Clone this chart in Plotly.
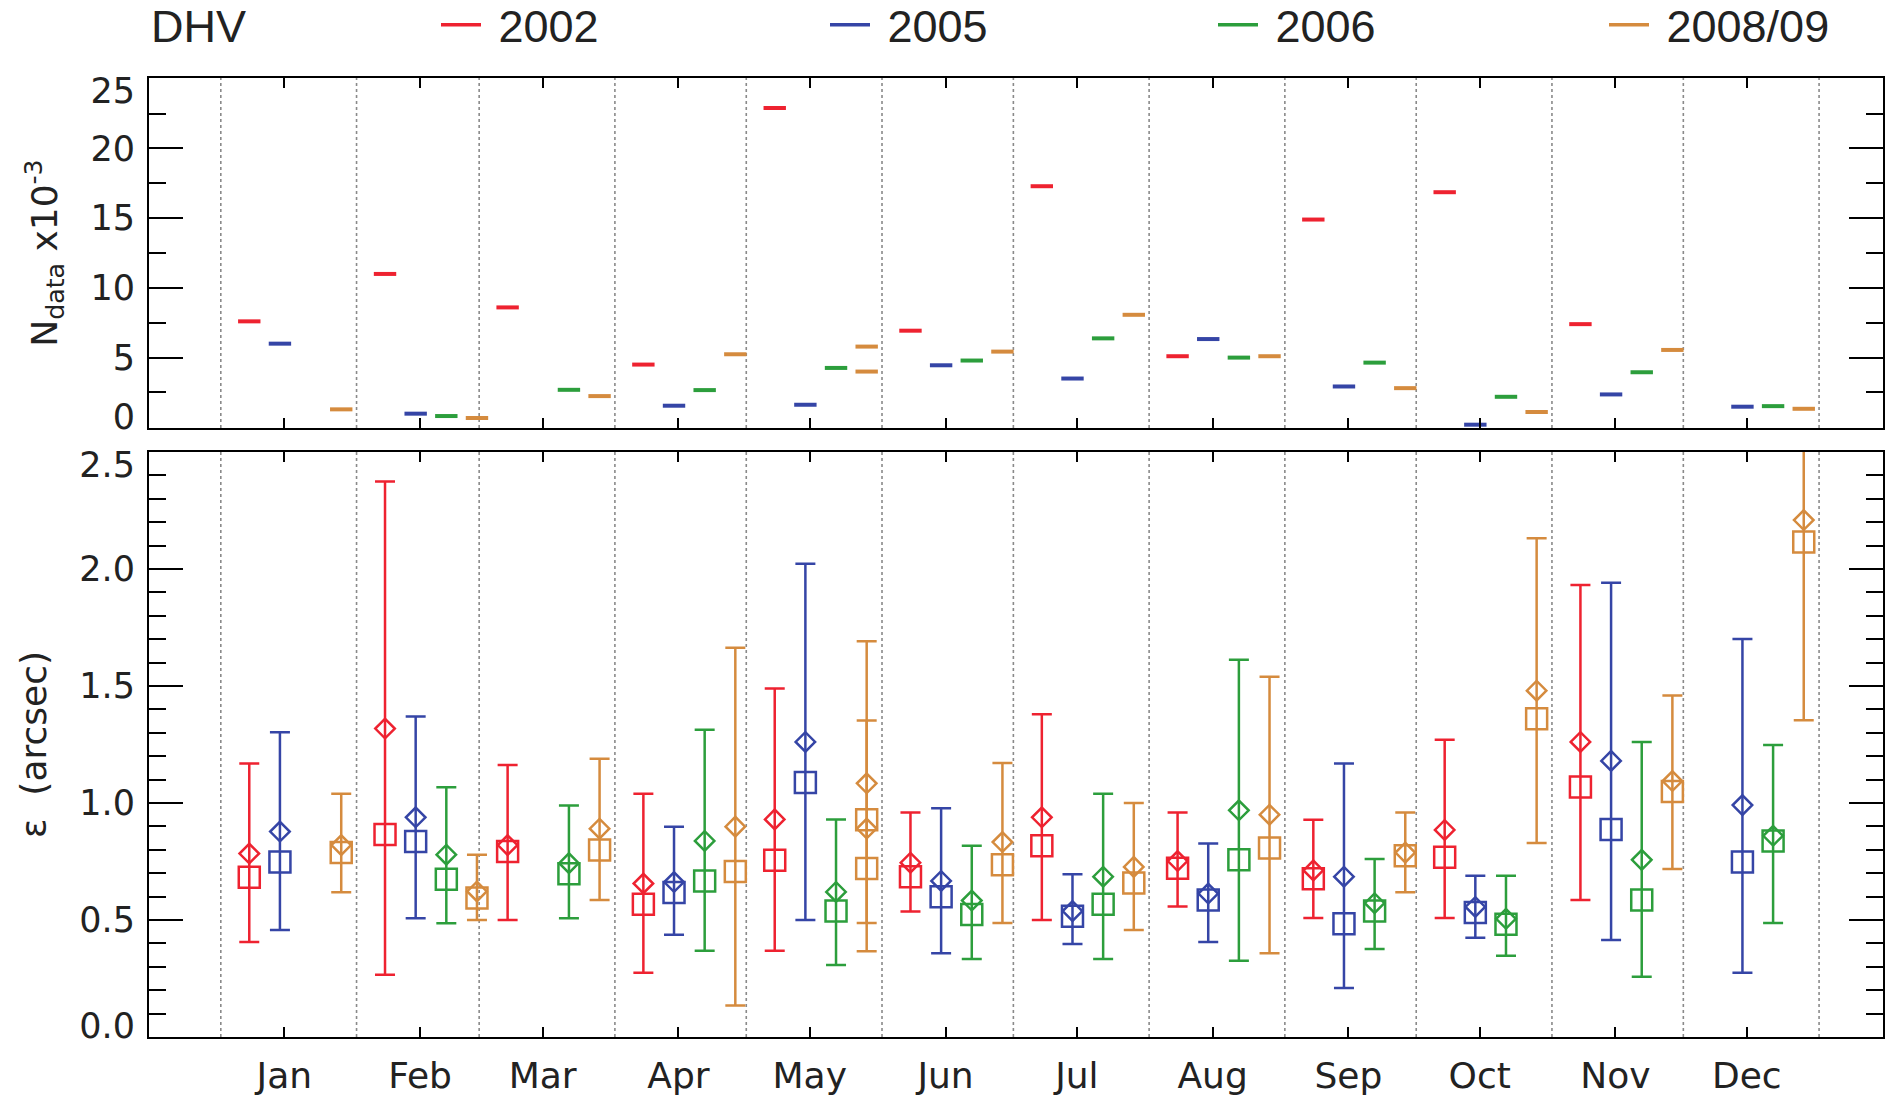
import plotly.graph_objects as go

# ---------------------------------------------------------------- data
months = ["Jan", "Feb", "Mar", "Apr", "May", "Jun",
          "Jul", "Aug", "Sep", "Oct", "Nov", "Dec"]
month_days = [31, 28, 31, 30, 31, 30, 31, 31, 30, 31, 30, 31]

series_names = ["2002", "2005", "2006", "2008/09"]
series_colors = ["#ee2230", "#3545a6", "#2c9e3c", "#d58b3e"]
# day of the month each campaign's monthly sample is plotted at
sample_day = [7, 14, 21, 28]

# month index of every monthly sample (2008/09 has two May samples)
month_idx_2002 = [0, 1, 2, 3, 4, 5, 6, 7, 8, 9, 10]
month_idx_2005 = [0, 1, 3, 4, 5, 6, 7, 8, 9, 10, 11]
month_idx_2006 = [1, 2, 3, 4, 5, 6, 7, 8, 9, 10, 11]
month_idx_0809 = [0, 1, 2, 3, 4, 4, 5, 6, 7, 8, 9, 10, 11]

# number of data points (x 10^-3)
ndata_2002 = [7.6, 11.0, 8.6, 4.5, 22.9, 6.93, 17.29, 5.1, 14.9, 16.86, 7.4]
ndata_2005 = [6.0, 0.98, 1.55, 1.62, 4.45, 3.5, 6.33, 2.93, 0.19, 2.36, 1.48]
ndata_2006 = [0.81, 2.69, 2.67, 4.26, 4.79, 6.38, 5.0, 4.64, 2.19, 3.95, 1.52]
ndata_0809 = [1.29, 0.67, 2.24, 5.24, 5.79, 4.0, 5.43, 8.07, 5.1, 2.81, 1.1, 5.55, 1.33]

# epsilon (arcsec): mean, median, and lower / upper end of the spread bar
mean_2002 = [0.784, 1.318, 0.82, 0.656, 0.93, 0.745, 0.939, 0.752, 0.712, 0.885, 1.261]
median_2002 = [0.683, 0.865, 0.793, 0.567, 0.755, 0.685, 0.817, 0.721, 0.676, 0.768, 1.068]
low_2002 = [0.406, 0.266, 0.50, 0.275, 0.369, 0.536, 0.50, 0.558, 0.509, 0.509, 0.586]
high_2002 = [1.169, 2.374, 1.162, 1.04, 1.489, 0.959, 1.379, 0.959, 0.928, 1.27, 1.932]

mean_2005 = [0.878, 0.939, 0.662, 1.261, 0.667, 0.538, 0.613, 0.685, 0.556, 1.18, 0.991]
median_2005 = [0.748, 0.835, 0.617, 1.088, 0.599, 0.516, 0.586, 0.484, 0.532, 0.887, 0.748]
low_2005 = [0.457, 0.507, 0.437, 0.50, 0.358, 0.397, 0.406, 0.209, 0.424, 0.415, 0.275]
high_2005 = [1.302, 1.37, 0.899, 2.023, 0.978, 0.696, 0.827, 1.169, 0.689, 1.941, 1.701]

mean_2006 = [0.779, 0.743, 0.838, 0.62, 0.583, 0.685, 0.969, 0.572, 0.505, 0.757, 0.86]
median_2006 = [0.674, 0.698, 0.667, 0.538, 0.523, 0.567, 0.757, 0.538, 0.482, 0.585, 0.838]
low_2006 = [0.486, 0.507, 0.369, 0.308, 0.333, 0.333, 0.326, 0.376, 0.347, 0.257, 0.487]
high_2006 = [1.067, 0.989, 1.313, 0.93, 0.817, 1.04, 1.612, 0.761, 0.689, 1.261, 1.248]

mean_0809 = [0.82, 0.622, 0.89, 0.899, 1.084, 0.891, 0.833, 0.727, 0.95, 0.788, 1.48, 1.094, 2.209]
median_0809 = [0.788, 0.594, 0.799, 0.707, 0.928, 0.72, 0.736, 0.658, 0.808, 0.775, 1.36, 1.049, 2.115]
low_0809 = [0.619, 0.50, 0.586, 0.135, 0.366, 0.487, 0.487, 0.457, 0.358, 0.619, 0.829, 0.718, 1.354]
high_0809 = [1.04, 0.779, 1.189, 1.664, 1.691, 1.353, 1.171, 1.0, 1.54, 0.959, 2.131, 1.459, 3.06]

month_idx = [month_idx_2002, month_idx_2005, month_idx_2006, month_idx_0809]
ndata = [ndata_2002, ndata_2005, ndata_2006, ndata_0809]
means = [mean_2002, mean_2005, mean_2006, mean_0809]
medians = [median_2002, median_2005, median_2006, median_0809]
lows = [low_2002, low_2005, low_2006, low_0809]
highs = [high_2002, high_2005, high_2006, high_0809]

# y tick values of both panels
ndata_ticks = [0, 5, 10, 15, 20, 25]
eps_ticks = [0.0, 0.5, 1.0, 1.5, 2.0, 2.5]

# ------------------------------------------------------- day-of-year axis
month_start = [sum(month_days[:i]) for i in range(12)]
month_edges = month_start + [sum(month_days)]
month_mid = [s + 14.5 for s in month_start]

TICK_FONT = dict(family="DejaVu Sans", size=35, color="#222")
MONTH_FONT = dict(family="DejaVu Sans", size=36, color="#222")
TITLE_FONT = dict(family="DejaVu Sans", size=36, color="#222")
LEG_FONT = dict(family="Liberation Sans", size=45, color="#222")
NBSP = "\u00a0"

fig = go.Figure()

legend_ids = ["legend", "legend2", "legend3", "legend4"]
legend_left = [436, 825, 1213, 1604]

for s, name in enumerate(series_names):
    col = series_colors[s]
    xs = [month_start[m] + sample_day[s] - 0.5 for m in month_idx[s]]

    # upper panel: sample counts as short horizontal dashes
    fig.add_trace(go.Scatter(
        x=xs, y=ndata[s], mode="markers", xaxis="x", yaxis="y",
        marker=dict(symbol="line-ew", size=16, color=col,
                    line=dict(color=col, width=4)),
        showlegend=False, hoverinfo="x+y", name=name))

    # lower panel: mean with spread bars (diamonds) and median (squares)
    err_up = [h - m for h, m in zip(highs[s], means[s])]
    err_dn = [m - l for m, l in zip(means[s], lows[s])]
    fig.add_trace(go.Scatter(
        x=xs, y=means[s], mode="markers", xaxis="x2", yaxis="y2",
        marker=dict(symbol="diamond-open", size=15, color=col,
                    line=dict(color=col, width=2.5)),
        error_y=dict(type="data", symmetric=False, array=err_up,
                     arrayminus=err_dn, color=col, thickness=2.5, width=10),
        showlegend=False, name=name))
    fig.add_trace(go.Scatter(
        x=xs, y=medians[s], mode="markers", xaxis="x2", yaxis="y2",
        marker=dict(symbol="square-open", size=21, color=col,
                    line=dict(color=col, width=2.5)),
        showlegend=False, name=name))

    # legend key
    fig.add_trace(go.Scatter(
        x=[None], y=[None], mode="lines", xaxis="x", yaxis="y",
        line=dict(color=col, width=3.5), name=NBSP + name,
        legend=legend_ids[s], showlegend=True))

# empty traces so the label-only overlay axes get drawn
for xa, ya in (("x", "y3"), ("x", "y4"), ("x2", "y5"), ("x2", "y6")):
    fig.add_trace(go.Scatter(x=[None], y=[None], mode="markers",
                             xaxis=xa, yaxis=ya, showlegend=False,
                             hoverinfo="skip"))

# dotted month boundaries in both panels
for edge in month_edges:
    for xr, yr in (("x", "y domain"), ("x2", "y2 domain")):
        fig.add_shape(type="line", xref=xr, yref=yr, x0=edge, x1=edge,
                      y0=0, y1=1, layer="below",
                      line=dict(color="#8a8a8a", width=1.6, dash="dot"))

x_common = dict(range=[-16.4, 379.6], tickvals=month_mid, ticktext=months,
                showline=True, linecolor="black", linewidth=2, mirror="ticks",
                ticks="inside", ticklen=10, tickwidth=2, tickcolor="black",
                showgrid=False, zeroline=False, tickfont=MONTH_FONT)
y_common = dict(showline=True, linecolor="black", linewidth=2, mirror="ticks",
                ticks="inside", ticklen=34, tickwidth=2, tickcolor="black",
                showgrid=False, zeroline=False, tickfont=TICK_FONT,
                ticklabelstandoff=5)


def end_label_axis(base, rng, value, text, shift):
    """Label-only axis overlaying `base`, used to nudge an end label inward."""
    return dict(overlaying=base, anchor="x" if base == "y" else "x2",
                side="left", range=rng, showline=True, linewidth=2,
                linecolor="rgba(0,0,0,0)", ticks="inside", ticklen=34,
                tickwidth=2, tickcolor="rgba(0,0,0,0)",
                showgrid=False, zeroline=False, tickvals=[value],
                ticktext=[text], tickfont=TICK_FONT, ticklabelstandoff=5,
                ticklabelshift=shift)


top_range = [-0.05, 25.05]
bot_range = [0, 2.5]
# interior labels sit on the main axes; the end labels on the overlays
top_inner = ndata_ticks[1:-1]
bot_inner = eps_ticks[1:-1]

legends = {}
for s, lid in enumerate(legend_ids):
    legends[lid] = dict(
        xref="container", yref="container", x=legend_left[s] / 1888,
        y=1 - 25 / 1098, xanchor="left", yanchor="middle",
        orientation="h", font=LEG_FONT, bgcolor="rgba(0,0,0,0)",
        itemwidth=40, itemclick=False, itemdoubleclick=False)

fig.update_layout(
    width=1888, height=1098,
    margin=dict(l=149, r=5, t=78, b=61, autoexpand=False),
    paper_bgcolor="white", plot_bgcolor="white",
    xaxis=dict(x_common, anchor="y", showticklabels=False),
    yaxis=dict(y_common, domain=[0.635, 1.0], range=top_range,
               tickvals=top_inner, ticktext=[str(v) for v in top_inner],
               minor=dict(dtick=2.5, ticks="inside", ticklen=17,
                          tickwidth=2, tickcolor="black"),
               title=dict(text="N<sub>data</sub> x10<sup>-3</sup>",
                          font=TITLE_FONT, standoff=22)),
    yaxis3=end_label_axis("y", top_range, ndata_ticks[-1],
                          str(ndata_ticks[-1]), 12),
    yaxis4=end_label_axis("y", top_range, ndata_ticks[0],
                          str(ndata_ticks[0]), -11),
    xaxis2=dict(x_common, anchor="y2", ticklabelstandoff=6),
    yaxis2=dict(y_common, domain=[0.0, 0.610], range=bot_range,
                tickvals=bot_inner, ticktext=[f"{v:.1f}" for v in bot_inner],
                minor=dict(dtick=0.1, ticks="inside", ticklen=17,
                           tickwidth=2, tickcolor="black"),
                title=dict(text="ε  (arcsec)", font=TITLE_FONT, standoff=22)),
    yaxis5=end_label_axis("y2", bot_range, eps_ticks[-1],
                          f"{eps_ticks[-1]:.1f}", 13),
    yaxis6=end_label_axis("y2", bot_range, eps_ticks[0],
                          f"{eps_ticks[0]:.1f}", -11),
    annotations=[dict(text="DHV", xref="paper", yref="paper", x=0,
                      y=(1037 - 27) / 959, xanchor="left", yanchor="middle",
                      showarrow=False, font=LEG_FONT)],
    **legends,
)

fig.write_html("out.html")
